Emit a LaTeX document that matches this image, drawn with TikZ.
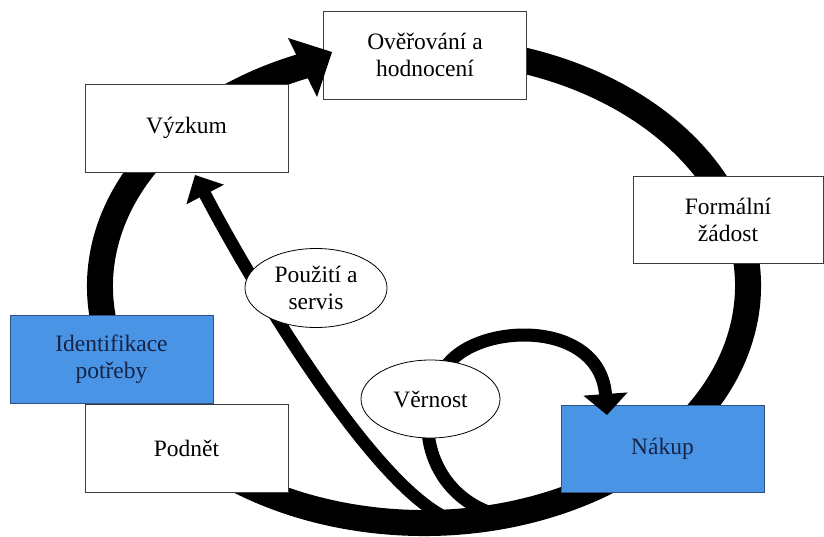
\documentclass[tikz,border=0pt]{standalone}
\usepackage{fontspec}
\setmainfont{Liberation Serif}
\usetikzlibrary{arrows.meta,shapes.geometric}
\definecolor{boxblue}{RGB}{74,148,229}
\definecolor{boxedge}{RGB}{60,60,60}
\definecolor{blueedge}{RGB}{50,80,130}
\definecolor{navytext}{RGB}{20,35,70}
\begin{document}
\begin{tikzpicture}[x=1pt,y=-1pt,
  box/.style={draw=boxedge, line width=0.9pt, fill=white, minimum width=203pt, minimum height=88pt, inner sep=0pt, align=center, font=\fontsize{23.5}{27}\selectfont},
  bluebox/.style={box, fill=boxblue, draw=blueedge, text=navytext},
  oval/.style={ellipse, draw=black, line width=0.8pt, fill=white, inner sep=0pt, align=center, font=\fontsize{23.5}{27}\selectfont},
  band/.style={line width=26pt, black},
  thinarrow/.style={line width=12.5pt, black}]
\useasboundingbox (0,0) rectangle (824,537);
% main cycle band
\coordinate (loopc) at (424,286);
\draw[band] (loopc) ++(-80:324 and 237) arc[start angle=-80, end angle=250, x radius=324, y radius=237];
% boxes
\node[box] (ov) at (425,55) {Ověřování a\\hodnocení};
\node[box] (vy) at (186.5,128) {Výzkum};
\node[box, minimum width=190pt, minimum height=87pt] (fo) at (728,219.5) {Formální\\žádost};
\node[bluebox] (id) at (111.5,359) {Identifikace\\potřeby};
\node[box] (po) at (186.5,448) {Podnět};
\node[bluebox, minimum height=87pt] (na) at (662.5,448.5) {Nákup};
% arrowhead of the cycle
\coordinate (tipA) at (332,52);
\fill[black] (288,38) -- (tipA) -- (317,97) -- cycle;
% usage and service arrow
\coordinate (useStart) at (458,522);
\coordinate (useEnd) at (195,175);
\draw[thinarrow, -{Triangle[width=41pt,length=22pt]}] (useStart) .. controls (385,505) and (255,290) .. (useEnd);
% loyalty arrow
\coordinate (loyStart) at (488,512);
\coordinate (loyMid) at (445,368);
\coordinate (loyEnd) at (607,415);
\draw[thinarrow, line width=13pt, -{Triangle[width=43pt,length=21pt]}] (loyStart) .. controls (430,490) and (410,420) .. (loyMid) .. controls (475,322) and (600,318) .. (loyEnd);
% ovals
\node[oval, minimum width=142pt, minimum height=79pt] (ps) at (316,288) {Použití a\\servis};
\node[oval, minimum width=139pt, minimum height=78pt] (ve) at (430.5,399) {Věrnost};
\end{tikzpicture}
\end{document}
